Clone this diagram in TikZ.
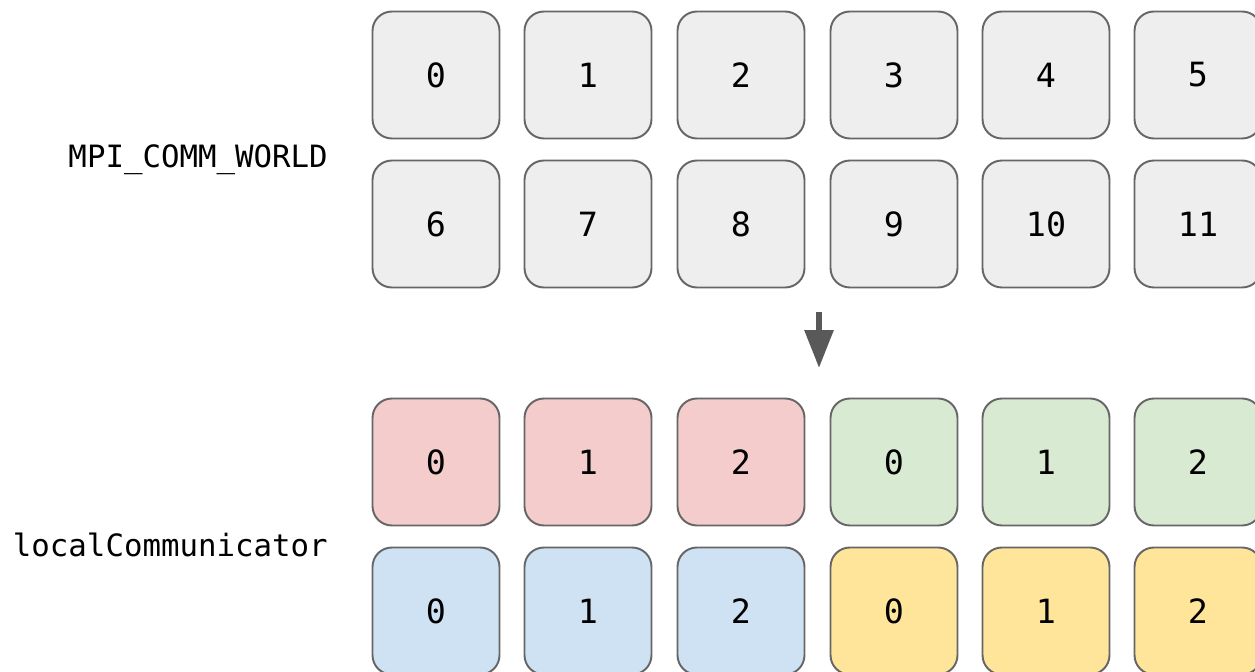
\documentclass[tikz,border=0pt]{standalone}
\usepackage{fontspec}
\setmonofont{DejaVu Sans Mono}
\usepackage{tikz}
\usetikzlibrary{arrows.meta,positioning}
\definecolor{rankgray}{HTML}{EEEEEE}
\definecolor{rankred}{HTML}{F4CCCC}
\definecolor{rankgreen}{HTML}{D9EAD3}
\definecolor{rankblue}{HTML}{CFE2F3}
\definecolor{rankyellow}{HTML}{FFE599}
\definecolor{rankedge}{HTML}{666666}
\definecolor{arrowgray}{HTML}{595959}

\begin{document}
\begin{tikzpicture}[
    x=0.02cm, y=-0.02cm,
    rank/.style={
        rectangle, draw=rankedge, line width=1.1pt, rounded corners=11pt,
        minimum width=2.54cm, minimum height=2.54cm, inner sep=0pt,
        font=\ttfamily\fontsize{19}{23}\selectfont
    },
    label/.style={font=\ttfamily\fontsize{17.5}{21}\selectfont, inner sep=0pt},
    arrow/.style={-{Triangle[width=0.56cm,length=0.76cm]}, line width=0.12cm, draw=arrowgray}
]
\useasboundingbox (0,0) rectangle (1255,672);

% MPI_COMM_WORLD ranks
\node[rank, fill=rankgray] (w0) at (436,75) {0};
\node[rank, fill=rankgray] (w1) at (588,75) {1};
\node[rank, fill=rankgray] (w2) at (741,75) {2};
\node[rank, fill=rankgray] (w3) at (894,75) {3};
\node[rank, fill=rankgray] (w4) at (1046,75) {4};
\node[rank, fill=rankgray] (w5) at (1198,75) {5};
\node[rank, fill=rankgray] (w6) at (436,224) {6};
\node[rank, fill=rankgray] (w7) at (588,224) {7};
\node[rank, fill=rankgray] (w8) at (741,224) {8};
\node[rank, fill=rankgray] (w9) at (894,224) {9};
\node[rank, fill=rankgray] (w10) at (1046,224) {10};
\node[rank, fill=rankgray] (w11) at (1198,224) {11};

% Split
\coordinate (split_top) at (819,312);
\coordinate (split_bot) at (819,368);
\draw[arrow] (split_top) -- (split_bot);

% localCommunicator ranks
\node[rank, fill=rankred] (r0) at (436,462) {0};
\node[rank, fill=rankred] (r1) at (588,462) {1};
\node[rank, fill=rankred] (r2) at (741,462) {2};
\node[rank, fill=rankgreen] (g0) at (894,462) {0};
\node[rank, fill=rankgreen] (g1) at (1046,462) {1};
\node[rank, fill=rankgreen] (g2) at (1198,462) {2};
\node[rank, fill=rankblue] (b0) at (436,611) {0};
\node[rank, fill=rankblue] (b1) at (588,611) {1};
\node[rank, fill=rankblue] (b2) at (741,611) {2};
\node[rank, fill=rankyellow] (y0) at (894,611) {0};
\node[rank, fill=rankyellow] (y1) at (1046,611) {1};
\node[rank, fill=rankyellow] (y2) at (1198,611) {2};

% Labels
\node[label, anchor=base east] (world_lbl) at (328,168) {MPI\_COMM\_WORLD};
\node[label, anchor=base east] (local_lbl) at (328,556) {localCommunicator};

\end{tikzpicture}
\end{document}
